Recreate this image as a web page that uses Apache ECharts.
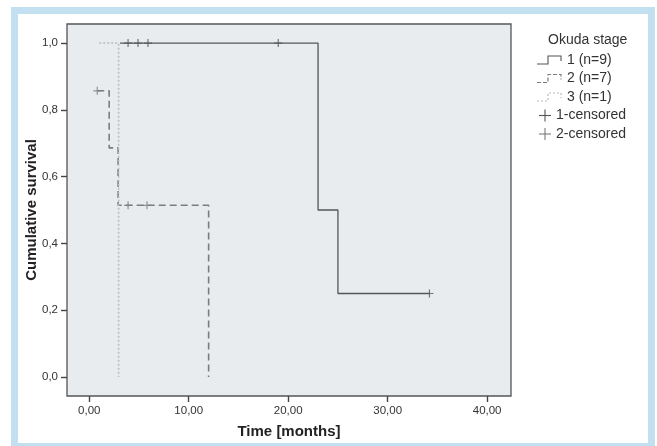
<!DOCTYPE html>
<html><head><meta charset="utf-8">
<script src="https://cdn.jsdelivr.net/npm/echarts@6/dist/echarts.min.js"></script>
<style>
html,body{margin:0;padding:0;background:#fff;}
#frame{position:absolute;left:11px;top:7px;width:630px;height:429px;border:7px solid #c3e0f0;border-bottom-width:3px;background:#fff;}
#chart{position:absolute;left:0;top:0;width:657px;height:446px;}
</style></head><body>
<div id="frame"></div>
<div id="chart"></div>
<script>
// ---- data ----
const xTicks = [0, 10, 20, 30, 40];
const yTicks = [0, 0.2, 0.4, 0.6, 0.8, 1.0];

const stage1Times = [3.1, 23, 25, 34.2];
const stage1Surv  = [1, 0.5, 0.25, 0.25];
const stage2Times = [0.8, 2.0, 2.9, 12.0];
const stage2Surv  = [0.857, 0.686, 0.514, 0];
const stage3Times = [1.0, 2.95];
const stage3Surv  = [1, 0];

const cens1Times = [3.9, 4.9, 5.9, 19.0, 34.2];
const cens1Surv  = [1, 1, 1, 1, 0.25];
const cens2Times = [0.8, 3.9, 5.8];
const cens2Surv  = [0.857, 0.514, 0.514];

const legendTitle = 'Okuda stage';
const legendNames = ['1 (n=9)', '2 (n=7)', '3 (n=1)', '1-censored', '2-censored'];

// ---- build ----
const zip = (a, b) => a.map((v, i) => [v, b[i]]);
const c1 = '#555555', c2 = '#7c7c7c', c3 = '#b9b9b9';
const plus = 'path://M5,0L5,10M0,5L10,5';
const legFont = '14px "Liberation Sans", Arial, sans-serif';

const chart = echarts.init(document.getElementById('chart'), null, {renderer: 'canvas'});

const legendRowsY = [60, 78.5, 97, 115.5, 134];
const graphic = [{
  type: 'text', left: 548, top: 33,
  style: {text: legendTitle, font: legFont, fill: '#333'}
}];
const lineStyles = [
  {stroke: c1, lineWidth: 1.1},
  {stroke: c2, lineWidth: 1.2, lineDash: [4, 2]},
  {stroke: c3, lineWidth: 1.2, lineDash: [2, 2]}
];
for (let i = 0; i < 3; i++) {
  const y = legendRowsY[i];
  graphic.push({
    type: 'polyline',
    shape: {points: [[537, y + 4], [548, y + 4], [548, y - 4], [561, y - 4], [561, y + 1]]},
    style: Object.assign({fill: null}, lineStyles[i])
  });
  graphic.push({
    type: 'text', left: 567, top: y - 7,
    style: {text: legendNames[i], font: legFont, fill: '#333'}
  });
}
for (let i = 3; i < 5; i++) {
  const y = legendRowsY[i];
  graphic.push({
    type: 'polyline', shape: {points: [[539, y], [551, y]]},
    style: {stroke: i === 3 ? c1 : c2, lineWidth: 1.1, fill: null}
  });
  graphic.push({
    type: 'polyline', shape: {points: [[545, y - 6], [545, y + 6]]},
    style: {stroke: i === 3 ? c1 : c2, lineWidth: 1.1, fill: null}
  });
  graphic.push({
    type: 'text', left: 556, top: y - 7,
    style: {text: legendNames[i], font: legFont, fill: '#333'}
  });
}

const option = {
  animation: false,
  textStyle: {fontFamily: '"Liberation Sans", Arial, sans-serif'},
  grid: {left: 67, top: 24, right: 146, bottom: 50, show: true,
         backgroundColor: '#e9ecef', borderColor: '#555', borderWidth: 1.3},
  xAxis: {
    type: 'value', min: -2.24, max: 42.4,
    splitLine: {show: false},
    axisLine: {show: false, onZero: false},
    axisTick: {show: true, inside: false, length: 6, customValues: xTicks,
               lineStyle: {color: '#444', width: 1.4}},
    axisLabel: {customValues: xTicks, fontSize: 11.5, color: '#333', margin: 9,
                formatter: v => v.toFixed(2).replace('.', ',')},
    name: 'Time [months]', nameLocation: 'middle', nameGap: 28, nameMoveOverlap: false,
    nameTextStyle: {fontWeight: 'bold', fontSize: 15, color: '#222'}
  },
  yAxis: {
    type: 'value', min: -0.057, max: 1.057,
    splitLine: {show: false},
    axisLine: {show: false, onZero: false},
    axisTick: {show: true, inside: false, length: 6, customValues: yTicks,
               lineStyle: {color: '#444', width: 1.4}},
    axisLabel: {customValues: yTicks, fontSize: 11.5, color: '#333', margin: 9,
                formatter: v => v.toFixed(1).replace('.', ',')},
    name: 'Cumulative survival', nameLocation: 'middle', nameGap: 28, nameMoveOverlap: false,
    nameTextStyle: {fontWeight: 'bold', fontSize: 15, color: '#222'}
  },
  graphic: graphic,
  series: [
    {type: 'line', name: legendNames[0], step: 'end', symbol: 'none',
     data: zip(stage1Times, stage1Surv), lineStyle: {color: c1, width: 1.3}},
    {type: 'line', name: legendNames[1], step: 'end', symbol: 'none',
     data: zip(stage2Times, stage2Surv), lineStyle: {color: c2, width: 1.6, type: [7, 4]}},
    {type: 'line', name: legendNames[2], step: 'end', symbol: 'none',
     data: zip(stage3Times, stage3Surv), lineStyle: {color: c3, width: 1.5, type: [2, 2]}},
    {type: 'scatter', name: legendNames[3], symbol: plus, symbolSize: 8,
     data: zip(cens1Times, cens1Surv),
     itemStyle: {color: 'none', borderColor: c1, borderWidth: 1.2}},
    {type: 'scatter', name: legendNames[4], symbol: plus, symbolSize: 8,
     data: zip(cens2Times, cens2Surv),
     itemStyle: {color: 'none', borderColor: c2, borderWidth: 1.2}}
  ]
};
chart.setOption(option);
</script>
</body></html>
